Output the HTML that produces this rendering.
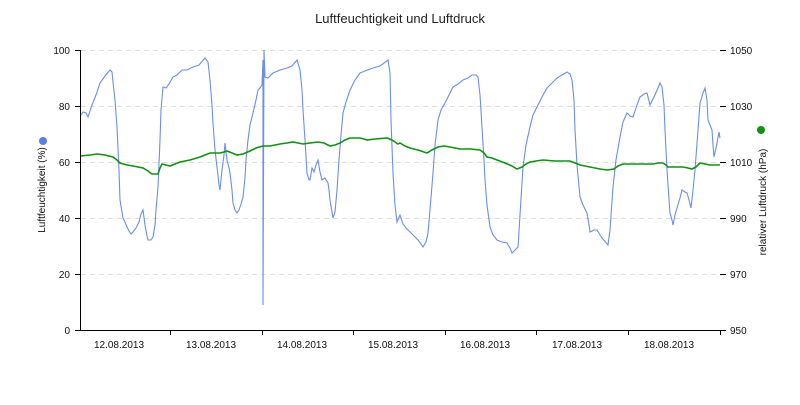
<!DOCTYPE html>
<html><head><meta charset="utf-8"><style>
body{margin:0;background:#fff;}
svg{font-family:"Liberation Sans",sans-serif;}
</style></head><body>
<svg width="800" height="400" viewBox="0 0 800 400">
<text x="400" y="23" text-anchor="middle" font-size="13" fill="#222">Luftfeuchtigkeit und Luftdruck</text>
<g stroke="#ddd" stroke-dasharray="5,4" stroke-width="1">
<line x1="81" y1="50.5" x2="720" y2="50.5"/><line x1="81" y1="106.5" x2="720" y2="106.5"/>
<line x1="81" y1="162.5" x2="720" y2="162.5"/><line x1="81" y1="218.5" x2="720" y2="218.5"/>
<line x1="81" y1="274.5" x2="720" y2="274.5"/>
</g>
<g stroke="#000" stroke-width="1">
<line x1="80.5" y1="50" x2="80.5" y2="330"/>
<line x1="80" y1="330.5" x2="721" y2="330.5"/>
<line x1="75" y1="50.5" x2="80" y2="50.5"/><line x1="75" y1="106.5" x2="80" y2="106.5"/>
<line x1="75" y1="162.5" x2="80" y2="162.5"/><line x1="75" y1="218.5" x2="80" y2="218.5"/>
<line x1="75" y1="274.5" x2="80" y2="274.5"/><line x1="75" y1="330.5" x2="80" y2="330.5"/>
<line x1="720" y1="50.5" x2="726" y2="50.5"/><line x1="720" y1="106.5" x2="726" y2="106.5"/>
<line x1="720" y1="162.5" x2="726" y2="162.5"/><line x1="720" y1="218.5" x2="726" y2="218.5"/>
<line x1="720" y1="274.5" x2="726" y2="274.5"/><line x1="720" y1="330.5" x2="726" y2="330.5"/>
<line x1="170.5" y1="330" x2="170.5" y2="335"/><line x1="262.5" y1="330" x2="262.5" y2="335"/>
<line x1="353.5" y1="330" x2="353.5" y2="335"/><line x1="445.5" y1="330" x2="445.5" y2="335"/>
<line x1="536.5" y1="330" x2="536.5" y2="335"/><line x1="628.5" y1="330" x2="628.5" y2="335"/>
<line x1="720.5" y1="330" x2="720.5" y2="335"/>
</g>
<g font-size="10" fill="#111" text-anchor="end">
<text x="70" y="54">100</text><text x="70" y="110">80</text><text x="70" y="166">60</text>
<text x="70" y="222">40</text><text x="70" y="278">20</text><text x="70" y="334">0</text>
</g>
<g font-size="10" fill="#111">
<text x="730" y="54">1050</text><text x="730" y="110">1030</text><text x="730" y="166">1010</text>
<text x="730" y="222">990</text><text x="730" y="278">970</text><text x="730" y="334">950</text>
</g>
<g font-size="10" fill="#111" text-anchor="middle">
<text x="119" y="348">12.08.2013</text><text x="211" y="348">13.08.2013</text>
<text x="302" y="348">14.08.2013</text><text x="393" y="348">15.08.2013</text>
<text x="485" y="348">16.08.2013</text><text x="577" y="348">17.08.2013</text>
<text x="669" y="348">18.08.2013</text>
</g>
<text transform="translate(45,190) rotate(-90)" font-size="10" fill="#111" text-anchor="middle">Luftfeuchtigkeit (%)</text>
<text transform="translate(766,202) rotate(-90)" font-size="10" fill="#111" text-anchor="middle">relativer Luftdruck (hPa)</text>
<circle cx="43" cy="141" r="4" fill="#5b7fe8"/>
<circle cx="761" cy="130" r="4" fill="#139113"/>
<polyline fill="none" stroke="#6a8ef0" stroke-width="1.1" points="81,115 83,112 86,113 88,117 92,105 96,95 100,83 105,76 110,70 112,72 113,82 115,100 117,127 119,170 120,200 122,212 123,218 125,222 127,227 129,231 131,234 133,232 136,228 139,222 141,214 143,210 145,225 147,236 148,240 151,240 153,237 155,225 156,210 158,187 160,140 161,110 163,87 166,88 169,84 173,77 177,75 182,70 187,70 193,67 199,65 205,58 208,62 210,80 212,105 213,123 215,150 217,167 218,175 219,185 220,190 222,170 224,155 225,143 227,160 229,168 230,173 232,190 233,203 235,210 237,213 239,210 241,204 243,197 245,178 246,160 248,140 250,125 253,113 256,100 258,90 260,88 262,85 263,60 263,305 264,50 265,77 268,78 273,73 280,70 287,68 292,66 297,60 300,70 302,90 303,110 305,140 307,173 309,180 310,180 312,168 314,172 316,165 318,160 320,172 322,180 325,178 328,183 329,190 330,200 332,212 333,218 335,212 337,190 339,160 341,135 343,113 346,102 350,90 355,80 360,73 365,71 373,68 380,66 388,60 390,73 391,120 393,173 395,205 397,222 400,215 403,224 406,228 410,232 414,236 418,240 421,244 423,247 426,242 428,233 430,210 433,173 435,145 438,120 441,110 445,103 449,95 453,87 458,84 463,80 468,78 472,75 476,75 478,77 480,95 482,127 484,160 485,180 487,205 490,227 493,235 497,240 502,242 507,243 510,248 512,253 515,250 518,247 520,215 523,167 526,145 530,127 533,115 537,107 542,97 547,88 552,83 557,78 562,75 567,72 570,74 572,80 574,100 575,130 577,165 580,197 583,205 587,213 589,225 590,232 594,230 597,230 602,238 608,245 610,230 613,187 616,160 620,137 623,122 627,113 630,116 633,117 637,105 640,97 644,94 647,93 650,105 654,97 658,88 660,83 662,87 664,105 665,130 667,170 670,213 672,220 673,225 675,215 677,208 680,198 682,190 685,192 687,193 689,200 691,208 693,190 695,170 698,130 700,103 703,93 705,88 707,100 708,120 710,125 712,130 713,145 714,157 716,148 717,143 719,132 720,138"/>
<polyline fill="none" stroke="#129012" stroke-width="1.6" points="81,156 90,155 97,154 105,155 113,157 117,160 120,163 127,165 133,166 138,167 143,168 148,171 152,174 158,174 160,168 162,164 166,165 170,166 175,164 180,162 190,160 200,157 205,155 210,153 215,153 220,153 224,152 227,151 232,153 237,155 243,154 250,151 256,148 263,146 270,146 280,144 287,143 293,142 298,143 303,144 310,143 318,142 324,143 330,146 335,145 340,143 345,140 350,138 355,138 360,138 364,139 367,140 375,139 387,138 392,140 398,144 400,143 405,146 410,148 418,150 427,153 432,150 438,147 444,146 450,147 455,148 460,149 470,149 480,150 484,153 487,157 492,158 497,160 505,163 512,166 517,169 522,167 526,164 530,162 536,161 543,160 555,161 570,161 575,163 580,165 590,167 600,169 607,170 614,169 618,166 623,164 630,164 640,164 653,164 658,163 663,163 666,165 668,167 675,167 683,167 688,168 692,169 696,167 700,163 705,164 710,165 715,165 720,165"/>
</svg>
</body></html>
